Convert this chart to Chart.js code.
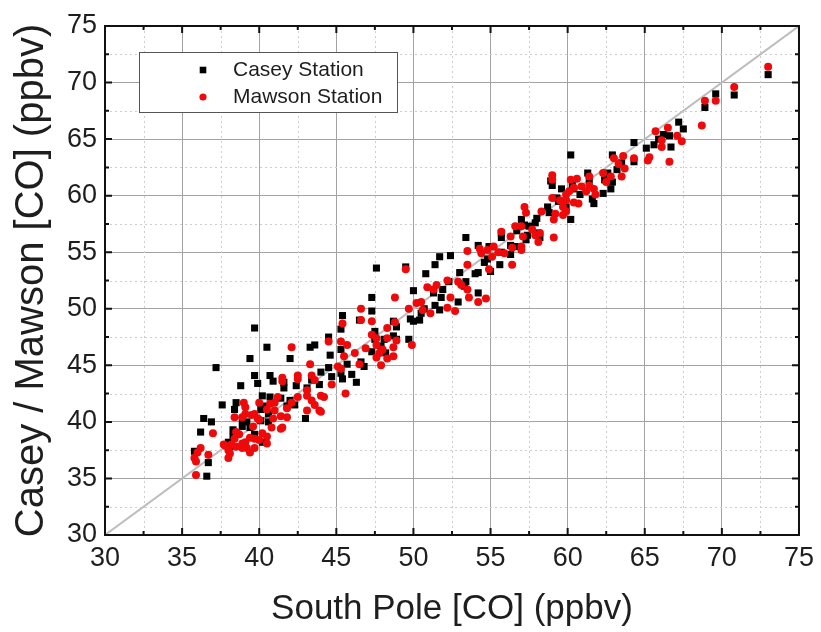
<!DOCTYPE html>
<html><head><meta charset="utf-8">
<script src="https://cdn.jsdelivr.net/npm/chart.js@4/dist/chart.umd.min.js"></script>
<style>html,body{margin:0;padding:0;background:#fff;}canvas{display:block;}</style>
</head><body>
<canvas id="c" width="821" height="632"></canvas>
<script>
const axisMin = 30, axisMax = 75, majorStep = 5;
const minorTickValues = [32.5, 37.5, 42.5, 47.5, 52.5, 57.5, 62.5, 67.5, 72.5];
const seriesNames = ['Casey Station', 'Mawson Station'];
const xTitle = 'South Pole [CO] (ppbv)';
const yTitle = 'Casey / Mawson [CO] (ppbv)';
const oneToOneX = [30, 75];
const oneToOneY = [30, 75];

const caseyPoints = [
[73.0,70.7],[70.8,68.9],[69.6,69.0],[68.9,67.8],[67.2,66.5],[67.5,65.9],[66.6,65.3],[66.2,65.4],[65.9,65.0],[65.6,64.5],
[66.7,64.3],[65.1,64.2],[64.3,64.7],[64.3,63.0],[62.9,63.6],[63.5,62.9],[63.2,62.3],[62.6,62.0],[62.4,61.4],[62.9,61.2],
[62.3,60.2],[62.8,60.6],[61.3,62.0],[61.4,61.4],[60.2,63.6],[60.2,57.9],[61.6,59.7],[61.7,59.3],[58.9,61.3],[59.0,60.9],
[59.3,59.8],[59.4,59.5],[59.6,60.6],[60.3,60.9],[60.4,60.6],[60.8,60.1],[59.9,59.0],[58.7,59.0],[58.8,58.5],[58.0,58.0],
[58.2,56.3],[57.4,56.5],[57.0,57.9],[57.2,57.4],[57.5,57.3],[57.9,57.6],[57.3,56.1],[58.0,56.7],[56.7,56.9],[56.6,55.5],
[55.7,56.7],[55.7,56.3],[56.3,55.6],[56.3,54.8],[55.7,55.0],[55.6,53.9],[54.9,55.5],[54.8,54.4],[54.2,55.6],[54.0,53.1],
[53.4,56.3],[54.6,54.1],[55.0,53.3],[53.4,52.4],[53.3,52.0],[52.4,54.7],[51.7,54.6],[51.4,53.9],[50.8,53.1],[53.0,53.2],
[54.2,53.2],[52.3,52.4],[51.9,51.7],[51.3,51.4],[51.8,51.0],[51.4,50.3],[52.9,50.6],[54.2,51.4],[51.7,49.9],[50.7,50.0],
[50.0,51.6],[50.5,49.6],[50.0,48.9],[50.4,49.0],[49.8,49.1],[49.7,47.3],[48.9,48.4],[48.7,48.9],[48.9,47.3],[47.6,53.6],
[49.5,53.7],[47.3,51.0],[47.3,49.8],[47.5,48.0],[48.1,47.3],[48.7,47.6],[47.5,47.3],[47.9,46.7],[48.2,46.1],[47.3,46.2],
[46.8,44.9],[46.6,45.3],[46.3,43.5],[46.0,44.2],[45.7,45.1],[45.3,44.3],[45.4,49.4],[46.5,49.0],[45.3,48.2],[45.4,43.8],
[45.3,46.4],[44.5,47.5],[44.6,45.9],[44.5,44.8],[44.0,44.4],[44.7,44.0],[43.9,43.3],[43.4,43.7],[43.6,46.8],[43.3,46.6],
[43.1,43.0],[43.0,40.3],[42.4,43.2],[42.0,45.6],[41.6,43.5],[41.6,43.0],[41.4,42.1],[41.8,41.4],[42.3,41.5],[42.0,41.9],
[40.7,44.1],[40.9,43.6],[40.5,46.6],[40.2,42.3],[40.7,42.2],[40.4,41.4],[40.6,40.7],[40.1,40.1],[40.6,40.0],[40.2,38.2],
[39.7,48.3],[39.7,44.1],[39.9,43.4],[39.4,45.6],[39.2,40.0],[38.9,39.6],[38.8,43.2],[38.4,41.1],[38.5,41.7],[38.3,38.7],
[38.0,38.2],[37.6,41.5],[37.2,44.8],[36.9,40.0],[36.4,40.3],[36.2,39.1],[36.7,36.4],[36.6,35.2],[35.8,37.4],[39.4,39.5],
[39.7,38.9],[38.3,39.3],[38.9,40.2],[38.1,37.8],[40.1,41.1]
];

const mawsonPoints = [
[73.0,71.4],[70.8,69.6],[69.6,68.4],[68.9,68.4],[68.7,66.2],[67.4,64.8],[67.1,65.3],[66.6,63.0],[66.5,66.0],[65.7,65.7],
[66.1,64.9],[66.1,64.3],[65.3,63.4],[65.2,63.1],[64.3,63.3],[63.6,63.5],[63.3,62.8],[63.0,63.3],[63.5,61.7],[63.7,62.4],
[62.8,61.7],[62.3,62.0],[62.5,61.2],[61.4,61.7],[61.4,60.9],[60.9,60.8],[61.2,60.4],[61.7,60.6],[61.8,60.1],[60.2,61.4],
[60.6,61.5],[60.4,60.7],[60.1,60.4],[59.9,60.1],[59.9,59.6],[60.4,59.4],[60.7,59.3],[59.5,59.6],[59.7,59.0],[59.9,58.6],
[59.7,58.3],[59.0,61.8],[59.0,61.4],[59.0,59.8],[59.2,58.4],[59.1,57.9],[59.1,56.3],[58.3,58.6],[57.2,59.0],[57.3,58.5],
[57.0,57.3],[57.7,57.0],[57.9,56.5],[58.2,56.7],[58.1,55.9],[57.1,56.4],[57.0,55.5],[56.6,57.3],[56.3,56.4],[56.4,55.4],
[57.0,55.2],[55.7,56.8],[55.2,55.5],[55.5,55.0],[55.9,54.9],[56.4,53.9],[55.1,54.6],[54.8,55.2],[54.4,54.9],[53.5,55.1],
[53.5,53.9],[54.3,55.3],[54.9,53.5],[54.7,50.9],[54.2,50.6],[53.6,51.0],[53.5,51.7],[52.9,52.4],[53.1,52.1],[52.2,52.5],
[51.5,52.1],[51.3,51.7],[50.9,51.9],[52.7,49.8],[52.2,50.1],[52.4,51.0],[51.1,49.6],[50.5,50.6],[50.2,50.5],[49.7,50.0],
[50.6,49.9],[48.8,51.0],[48.8,48.8],[49.9,46.8],[49.5,53.5],[46.6,50.0],[46.6,49.0],[45.4,48.7],[47.3,48.9],[48.3,48.3],
[47.3,47.7],[47.6,47.4],[48.3,47.4],[48.9,47.2],[46.9,46.5],[47.6,46.8],[48.0,46.4],[48.7,46.6],[47.8,46.1],[47.6,45.7],
[48.3,45.6],[48.7,45.8],[47.9,45.0],[46.2,46.1],[45.7,46.8],[45.3,47.1],[45.5,45.8],[46.5,45.1],[45.1,44.9],[45.6,42.5],
[44.5,47.1],[44.0,42.3],[43.9,41.0],[43.6,41.5],[43.4,41.9],[44.2,42.2],[43.1,42.8],[43.1,42.3],[43.3,45.1],[43.4,44.1],
[43.6,43.7],[42.5,43.8],[41.5,43.6],[42.1,46.6],[44.7,43.3],[45.3,44.7],[42.5,42.2],[41.2,42.2],[41.0,41.7],[41.8,41.2],
[41.8,40.4],[41.5,39.5],[40.8,39.5],[40.5,38.7],[40.5,38.1],[44.0,40.9],[43.1,41.0],[42.1,41.7],[41.4,40.5],[41.0,41.0],
[40.9,40.3],[41.4,39.4],[40.7,41.6],[40.0,41.7],[39.9,40.3],[39.7,40.7],[39.6,39.6],[39.7,38.5],[39.1,40.7],[39.0,41.7],
[38.7,38.9],[39.1,38.2],[39.2,37.7],[38.5,37.8],[38.4,38.5],[38.2,38.0],[38.0,37.5],[38.0,36.8],[38.9,37.7],[37.7,38.0],
[37.0,39.0],[36.7,37.1],[36.2,37.7],[36.0,37.3],[35.8,36.8],[35.9,35.3],[35.9,36.5],[38.4,40.4],[38.9,40.4],[39.1,41.3],
[39.5,40.6],[40.5,41.1],[40.0,40.2],[40.2,39.0],[40.0,38.4],[39.4,38.6],[38.1,37.2],[37.8,37.9],[38.5,39.1],[38.9,38.1],
[39.4,37.3],[39.7,37.7],[42.5,44.1],[41.5,43.9]
];

const FONT = "'Liberation Sans', Arial, sans-serif";
const TEXT = '#1e1e1e';

const minorGrid = {
  id: 'minorGrid',
  beforeDatasetsDraw(chart) {
    const {ctx, chartArea: a, scales: {x, y}} = chart;
    ctx.save();
    ctx.strokeStyle = '#cdcdcd'; ctx.lineWidth = 1; ctx.setLineDash([2, 3]);
    minorTickValues.forEach(v => {
      const px = Math.round(x.getPixelForValue(v)) + 0.5;
      ctx.beginPath(); ctx.moveTo(px, a.top); ctx.lineTo(px, a.bottom); ctx.stroke();
      const py = Math.round(y.getPixelForValue(v)) + 0.5;
      ctx.beginPath(); ctx.moveTo(a.left, py); ctx.lineTo(a.right, py); ctx.stroke();
    });
    ctx.restore();
  }
};

const frameAndLegend = {
  id: 'frameAndLegend',
  afterDatasetsDraw(chart) {
    const {ctx, chartArea: a, scales: {x, y}} = chart;
    ctx.save();
    ctx.strokeStyle = '#111'; ctx.lineWidth = 2; ctx.setLineDash([]);
    ctx.strokeRect(a.left, a.top, a.right - a.left, a.bottom - a.top);
    const majors = [];
    for (let v = axisMin; v <= axisMax; v += majorStep) majors.push(v);
    const tick = (v, len) => {
      const px = x.getPixelForValue(v), py = y.getPixelForValue(v);
      ctx.beginPath();
      ctx.moveTo(px, a.bottom); ctx.lineTo(px, a.bottom - len);
      ctx.moveTo(px, a.top); ctx.lineTo(px, a.top + len);
      ctx.moveTo(a.left, py); ctx.lineTo(a.left + len, py);
      ctx.moveTo(a.right, py); ctx.lineTo(a.right - len, py);
      ctx.stroke();
    };
    majors.forEach(v => tick(v, 7));
    minorTickValues.forEach(v => tick(v, 4));

    // legend box
    const bx = 139, by = 52, bw = 258, bh = 60;
    ctx.fillStyle = '#fff';
    ctx.fillRect(bx, by, bw, bh);
    ctx.lineWidth = 1; ctx.strokeStyle = '#555';
    ctx.strokeRect(bx + 0.5, by + 0.5, bw, bh);
    const ds = chart.data.datasets;
    const rows = [{y: 70, ds: ds[0]}, {y: 97, ds: ds[1]}];
    rows.forEach(r => {
      ctx.fillStyle = r.ds.backgroundColor;
      ctx.beginPath();
      if (r.ds.pointStyle === 'rect') { const s = 3.3; ctx.rect(203 - s, r.y - s, 2 * s, 2 * s); }
      else ctx.arc(203, r.y, 3.6, 0, Math.PI * 2);
      ctx.fill();
      ctx.fillStyle = TEXT;
      ctx.font = '21px ' + FONT;
      ctx.textBaseline = 'middle'; ctx.textAlign = 'left';
      ctx.fillText(r.ds.label, 233, r.y);
    });
    ctx.restore();
  }
};

const makeScale = (titleText, isX) => ({
  type: 'linear',
  min: axisMin, max: axisMax,
  afterFit: s => { if (isX) s.height = 97; else s.width = 105; },
  ticks: {
    stepSize: majorStep, autoSkip: false, maxRotation: 0, minRotation: 0,
    padding: isX ? 7 : 8,
    color: TEXT, font: {family: FONT, size: 27}
  },
  grid: {color: '#a3a3a3', lineWidth: 1, drawTicks: false},
  border: {display: false},
  title: {
    display: true, text: titleText, color: TEXT,
    font: {family: FONT, size: isX ? 35 : 40},
    padding: isX ? {top: 0, bottom: 2} : {top: 8, bottom: 0}
  }
});

new Chart(document.getElementById('c'), {
  type: 'scatter',
  data: {
    datasets: [
      {label: seriesNames[0], data: caseyPoints.map(p => ({x: p[0], y: p[1]})),
       pointStyle: 'rect', pointRadius: 5, pointHoverRadius: 5, backgroundColor: '#000', borderWidth: 0, order: 2},
      {label: seriesNames[1], data: mawsonPoints.map(p => ({x: p[0], y: p[1]})),
       pointStyle: 'circle', pointRadius: 4, pointHoverRadius: 4, backgroundColor: '#ee0a0a', borderWidth: 0, order: 1},
      {label: '1:1', type: 'line', data: oneToOneX.map((v, i) => ({x: v, y: oneToOneY[i]})),
       borderColor: '#bdbdbd', borderWidth: 2, pointRadius: 0, fill: false, order: 3}
    ]
  },
  options: {
    responsive: false, animation: false, devicePixelRatio: 1,
    layout: {padding: {top: 26, right: 20, left: 0, bottom: 0}},
    plugins: {legend: {display: false}, tooltip: {enabled: false}},
    scales: {x: makeScale(xTitle, true), y: makeScale(yTitle, false)}
  },
  plugins: [minorGrid, frameAndLegend]
});
</script>
</body></html>
